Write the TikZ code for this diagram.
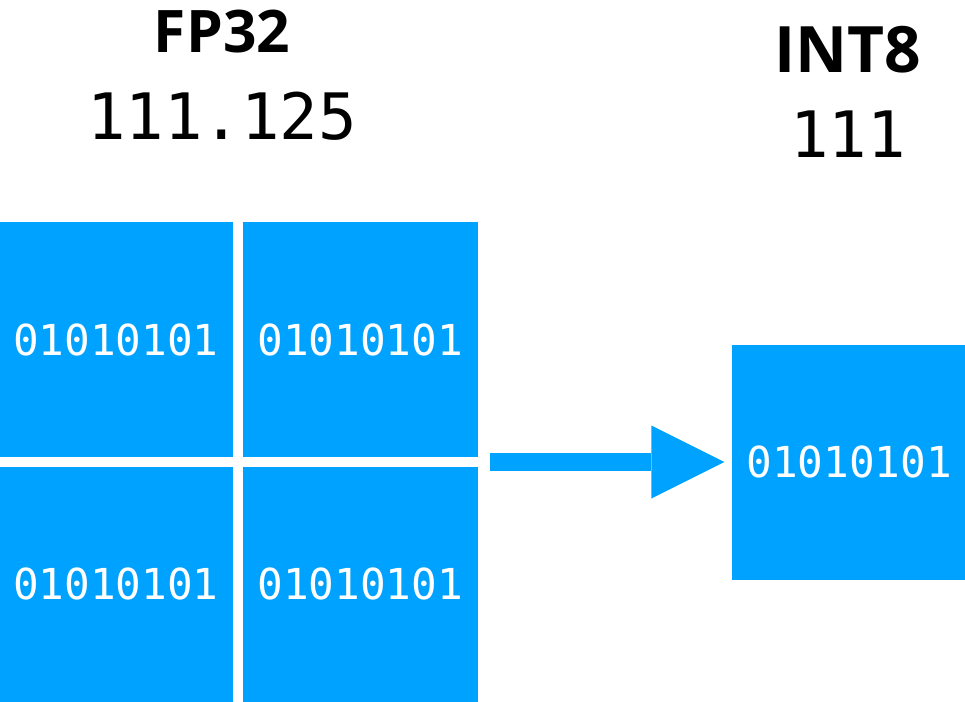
\documentclass[tikz,border=0pt]{standalone}
\usepackage{fontspec}
\usetikzlibrary{arrows.meta,positioning,fit}
\newfontfamily\headfont{Open Sans}
\newfontfamily\bitfont{DejaVu Sans Mono}
\definecolor{BitBlue}{RGB}{0,162,255}

\begin{document}
\begin{tikzpicture}[x=0.75pt,y=0.75pt,
    word/.style={fill=BitBlue,minimum size=176.25pt,inner sep=0pt,
                 text=white,font=\bitfont\fontsize{32}{38}\selectfont},
    head/.style={anchor=base,inner sep=0pt,
                 font=\headfont\bfseries\fontsize{44}{52}\selectfont},
    value/.style={anchor=base,inner sep=0pt,
                  font=\bitfont\fontsize{48}{56}\selectfont},
    arr/.style={-{Triangle[length=54.75pt,width=54.75pt,line width=0pt]},
                BitBlue,line width=13.5pt}
  ]
  \useasboundingbox (0,0) rectangle (965,701);
  % four bytes of the float
  \node[word,anchor=north west] (b1) at (-2,479) {01010101};
  \node[word,right=6.75pt of b1] (b2) {01010101};
  \node[word,below=6.75pt of b1] (b3) {01010101};
  \node[word,right=6.75pt of b3] (b4) {01010101};
  \node[fit=(b1)(b4),inner sep=0pt] (fp32) {};
  % one byte after quantization
  \node[word,right=189.75pt of fp32] (int8) {01010101};
  \draw[arr,shorten <=9pt,shorten >=5.25pt] (fp32.east) -- (int8.west);
  % labels
  \node[head] (fpname) at (222,648) {FP32};
  \node[value] (fpval) at (222,561) {111.125};
  \node[head,font=\headfont\bfseries\fontsize{48}{56}\selectfont] (intname) at (848,628) {INT8};
  \node[value] (intval) at (848,543) {111};
\end{tikzpicture}
\end{document}
